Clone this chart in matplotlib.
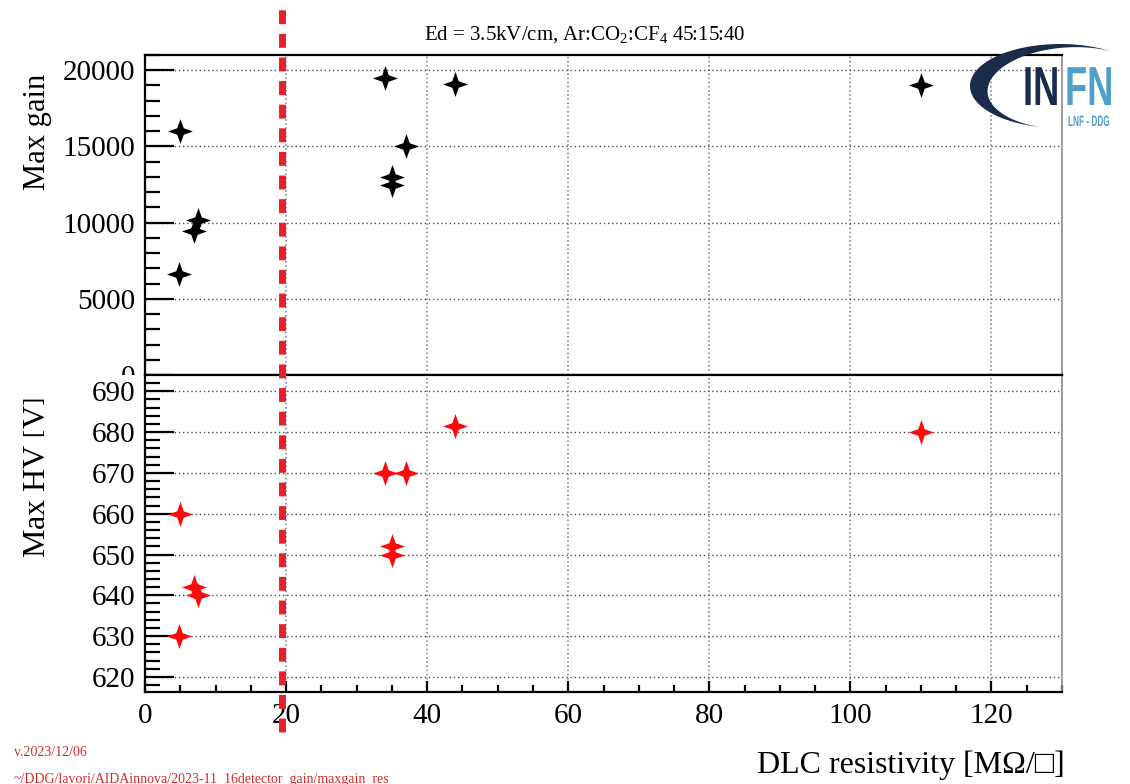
import numpy as np
import matplotlib
matplotlib.use("Agg")
import matplotlib.pyplot as plt
from matplotlib.path import Path
from matplotlib.patches import PathPatch, Polygon, Rectangle
from matplotlib.textpath import TextPath
from matplotlib.font_manager import FontProperties
from matplotlib.transforms import Affine2D, IdentityTransform

plt.rcParams['font.family'] = ['Liberation Serif', 'DejaVu Serif']
plt.rcParams['mathtext.fontset'] = 'custom'
plt.rcParams['mathtext.rm'] = 'Liberation Serif'
plt.rcParams['mathtext.it'] = 'Liberation Serif:italic'

# DLC resistivity of each detector [MOhm/sq]
resistivity = [4.8, 5.0, 7.0, 7.5, 34.0, 35.0, 35.0, 37.0, 44.0, 110.0]
max_gain = [6650, 16000, 9450, 10200, 19500, 12480, 13000, 15000, 19120, 19000]
max_hv = [630, 660, 642, 640, 670, 650, 652, 670, 681.5, 680]
threshold = 19.4

W, H = 1130, 784
fig = plt.figure(figsize=(W / 100, H / 100), dpi=100)


def fbox(x0, y0, x1, y1):
    # pixel box (top-left origin) -> figure fraction rect
    return [x0 / W, 1 - y1 / H, (x1 - x0) / W, (y1 - y0) / H]


# four pointed star marker
t = 0.26
star = Path([(1, 0), (t, t), (0, 1), (-t, t), (-1, 0), (-t, -t), (0, -1), (t, -t), (1, 0)],
            [Path.MOVETO] + [Path.LINETO] * 7 + [Path.CLOSEPOLY])

ax1 = fig.add_axes(fbox(145, 55, 1062, 375))
ax2 = fig.add_axes(fbox(145, 375, 1062, 692))
ax1.set_zorder(0)
ax2.set_zorder(2)
# pad covering the lower half of the gain axis labels
fig.patches.append(Rectangle((0, 0), 145 / W, 1 - 375 / H, transform=fig.transFigure,
                             facecolor='white', edgecolor='none', zorder=1))

for ax in (ax1, ax2):
    ax.set_xlim(0, 130)
    ax.grid(True, linestyle=(0, (1, 2)), color='0.3', linewidth=1.0)
    ax.set_axisbelow(True)
    for s in ('left', 'bottom', 'top'):
        ax.spines[s].set_linewidth(1.6)
    ax.spines['right'].set_color('0.55')
    ax.spines['right'].set_linewidth(1.2)
    ax.set_xticks(np.arange(0, 121, 20))
    ax.set_xticks(np.arange(0, 131, 5), minor=True)
    ax.tick_params(axis='y', which='major', direction='in', length=21, width=1.6,
                   labelsize=21, pad=7, right=False)
    ax.tick_params(axis='y', which='minor', direction='in', length=11, width=1.6, right=False)
    ax.tick_params(axis='x', which='major', direction='in', length=8, width=1.6,
                   labelsize=21, pad=8, top=False)
    ax.tick_params(axis='x', which='minor', direction='in', length=5, width=1.6, top=False)

ax1.plot(resistivity, max_gain, linestyle='none', marker=star, markersize=18,
         color='black', markeredgewidth=0)
ax1.set_ylim(0, 21000)
ax1.set_yticks(np.arange(0, 20001, 5000))
ax1.set_yticks(np.arange(0, 21001, 1000), minor=True)
ax1.tick_params(axis='x', which='both', labelbottom=False, bottom=False)
ax1.set_ylabel('Max gain', fontsize=22, loc='top')
ax1.yaxis.set_label_coords(-0.101, (375 - 74) / 320)
ax1.grid(True, which='major', axis='x', linestyle=(0, (1, 1.5)), color='0.55', linewidth=1.2)

ax2.plot(resistivity, max_hv, linestyle='none', marker=star, markersize=18,
         color='#ff0a0a', markeredgewidth=0)
ax2.set_ylim(616.3, 694)
ax2.set_yticks(np.arange(620, 691, 10))
ax2.set_yticks(np.arange(618, 694, 2), minor=True)
ax2.set_ylabel('Max HV $\\left[\\mathrm{V}\\right]$', fontsize=23, loc='top')
ax2.yaxis.set_label_coords(-0.101, (692 - 397) / 317)
ax2.grid(True, which='major', axis='x', linestyle=(0, (1, 1.5)), color='0.55', linewidth=1.2)
ax2.set_xlabel('DLC resistivity [M\u03a9/\u25a1]', fontsize=23, loc='right')
ax2.xaxis.set_label_coords(1.003, -(765 - 692) / 317)
ax2.xaxis.label.set_va('center')

# resistivity threshold, across both panels
ax2.axvline(threshold, ymin=(692 - 732) / 317, ymax=(692 - 4) / 317, clip_on=False,
            color='#e8202c', linewidth=5, dashes=(2.0, 1.4), zorder=5)

fig.text(585 / W, 1 - 35 / H, 'Ed = 3.5kV/cm, Ar:CO$_2$:CF$_4$ 45:15:40',
         ha='center', va='center', fontsize=15)

fig.text(14 / W, 1 - 752 / H, 'v.2023/12/06', color='#d42a2a', fontsize=10, va='center')
fig.text(14 / W, 1 - 779 / H, '~/DDG/lavori/AIDAinnova/2023-11_16detector_gain/maxgain_res',
         color='#d42a2a', fontsize=10, va='center')

# INFN logo (pixel coordinates, y downward)
navy = '#1b2b4b'
light = '#4f9fc8'
to_disp = Affine2D().scale(1, -1).translate(0, H) + IdentityTransform()
th = np.radians(np.linspace(55, 258, 200))
cx, cy, rx, ry = 1060, 86, 90, 42
ox = cx + rx * np.cos(th)
oy = cy - ry * np.sin(th)
thick = 20 * np.sin(np.pi * (th - th[0]) / (th[-1] - th[0])) ** 1.4
ix = cx + (rx - thick) * np.cos(th)
iy = cy - (ry - thick * 0.5) * np.sin(th)
swoosh = np.vstack([np.column_stack([ox, oy]), np.column_stack([ix, iy])[::-1]])
fig.patches.append(Polygon(swoosh, closed=True, transform=to_disp,
                           facecolor=navy, edgecolor='none', zorder=6))

fp = FontProperties(family='Liberation Sans', weight='bold')


def logo_text(s, x, y, size, sx, color):
    tp = TextPath((0, 0), s, size=size, prop=fp)
    tr = Affine2D().scale(sx, -1).translate(x, y) + to_disp
    fig.patches.append(PathPatch(tp, transform=tr, facecolor=color, edgecolor='none', zorder=7))


logo_text('IN', 1023, 105, 55, 0.66, navy)
logo_text('FN', 1065, 105, 55, 0.66, light)
logo_text('LNF - DDG', 1068, 126, 15, 0.55, light)

fig.savefig('out.png', dpi=100)
